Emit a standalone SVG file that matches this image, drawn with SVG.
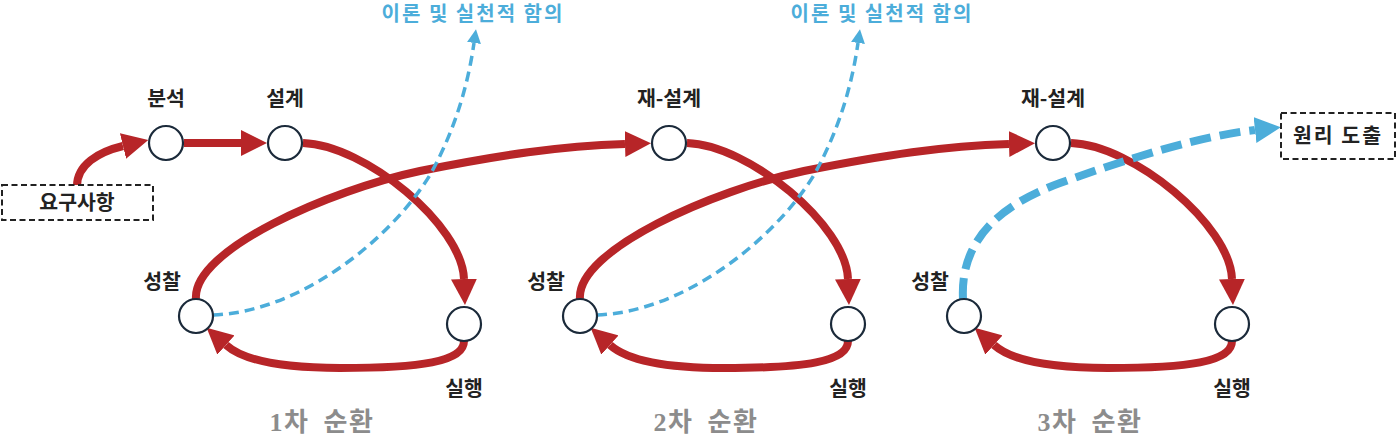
<svg xmlns="http://www.w3.org/2000/svg" width="1397" height="439" viewBox="0 0 1397 439">
<style>
.lbl{font-family:"Noto Sans CJK KR","Noto Sans",sans-serif;font-weight:700;font-size:20.5px;fill:#222;text-anchor:middle}
.blue-t{font-family:"Noto Sans CJK KR","Noto Sans",sans-serif;font-weight:700;font-size:20px;fill:#4cadda;text-anchor:middle;letter-spacing:2px}
.cyc{font-family:"Liberation Serif","Noto Sans CJK KR",serif;font-weight:700;font-size:26px;fill:#8c8c8c;text-anchor:middle;letter-spacing:1.5px;word-spacing:6px}
.red{fill:none;stroke:#b72528;stroke-width:8}
.bthin{fill:none;stroke:#4cadda;stroke-width:3.5;stroke-dasharray:10 6}
.bthick{fill:none;stroke:#4cadda;stroke-width:8;stroke-dasharray:21 9}
.node{fill:#fff;stroke:#1b2a3a;stroke-width:2.2}
.box{fill:#fff;stroke:#222;stroke-width:2;stroke-dasharray:6 3.5}
</style>
<defs>
<marker id="ar" viewBox="0 0 26 26" markerWidth="26" markerHeight="26" refX="0" refY="13" orient="auto" markerUnits="userSpaceOnUse"><path d="M0,0 L26,13 L0,26 z" fill="#b72528"/></marker>
<marker id="ab" viewBox="0 0 14 14" markerWidth="14" markerHeight="14" refX="0" refY="7" orient="auto" markerUnits="userSpaceOnUse"><path d="M0,0 L14,7 L0,14 z" fill="#4cadda"/></marker>
<marker id="abk" viewBox="0 0 26 26" markerWidth="26" markerHeight="26" refX="0" refY="13" orient="auto" markerUnits="userSpaceOnUse"><path d="M0,0 L26,13 L0,26 z" fill="#4cadda"/></marker>
</defs>

<g id="connectors">
  <!-- cycle 1 -->
  <path class="red" d="M77,186 C77,165 98,152 123,146" marker-end="url(#ar)"/>
  <path class="red" d="M184,143 L241,143" marker-end="url(#ar)"/>
  <path class="red" d="M303,143 C365,145 462,225 464,279" marker-end="url(#ar)"/>
  <path class="red" d="M464,341 C464,362 420,368 340,368 C290,368 245,362 226,345" marker-end="url(#ar)"/>
  <path class="red" d="M196,299 C192,250 330,190 420,171 C500,155 560,146 625,144" marker-end="url(#ar)"/>
  <!-- cycle 2 -->
  <path class="red" d="M687,143 C749,145 846,225 848,279" marker-end="url(#ar)"/>
  <path class="red" d="M848,341 C848,362 804,368 724,368 C674,368 629,362 610,345" marker-end="url(#ar)"/>
  <path class="red" d="M580,299 C576,250 714,190 804,171 C884,155 944,146 1009,144" marker-end="url(#ar)"/>
  <!-- cycle 3 -->
  <path class="red" d="M1071,143 C1133,145 1230,225 1232,279" marker-end="url(#ar)"/>
  <path class="red" d="M1232,341 C1232,362 1188,368 1108,368 C1058,368 1013,362 994,345" marker-end="url(#ar)"/>
  <!-- blue -->
  <path class="bthin" d="M213,315 C300,312 390,240 430,175 C455,130 468,85 474,43" marker-end="url(#ab)"/>
  <path class="bthin" d="M597,315 C684,312 774,240 814,175 C839,130 852,85 858,43" marker-end="url(#ab)"/>
  <path class="bthick" d="M963,299 C960,240 1000,205 1060,183 C1130,158 1200,136 1255,130" marker-end="url(#abk)"/>
</g>

<g id="n-req"><rect class="box" x="2" y="185" width="151" height="35"/><text class="lbl" x="77" y="210">요구사항</text></g>
<g id="n-out"><rect class="box" x="1281" y="113" width="114" height="46"/><text class="lbl" x="1338" y="143" style="letter-spacing:2px">원리 도출</text></g>

<g id="n-analysis"><circle class="node" cx="166" cy="143" r="17"/><text class="lbl" x="166" y="106">분석</text></g>
<g id="n-design1"><circle class="node" cx="285" cy="143" r="17"/><text class="lbl" x="285" y="106">설계</text></g>
<g id="n-act1"><circle class="node" cx="464" cy="324" r="17"/><text class="lbl" x="464" y="396">실행</text></g>
<g id="n-refl1"><circle class="node" cx="196" cy="316" r="17"/><text class="lbl" x="162" y="289">성찰</text></g>

<g id="n-design2"><circle class="node" cx="669" cy="143" r="17"/><text class="lbl" x="669" y="106">재-설계</text></g>
<g id="n-act2"><circle class="node" cx="848" cy="324" r="17"/><text class="lbl" x="848" y="396">실행</text></g>
<g id="n-refl2"><circle class="node" cx="580" cy="316" r="17"/><text class="lbl" x="546" y="289">성찰</text></g>

<g id="n-design3"><circle class="node" cx="1053" cy="143" r="17"/><text class="lbl" x="1053" y="106">재-설계</text></g>
<g id="n-act3"><circle class="node" cx="1232" cy="324" r="17"/><text class="lbl" x="1232" y="396">실행</text></g>
<g id="n-refl3"><circle class="node" cx="964" cy="316" r="17"/><text class="lbl" x="930" y="289">성찰</text></g>

<g id="n-theory1"><text class="blue-t" x="473" y="21">이론 및 실천적 함의</text></g>
<g id="n-theory2"><text class="blue-t" x="882" y="21">이론 및 실천적 함의</text></g>

<g id="cycle-labels">
  <text class="cyc" x="322" y="431">1차 순환</text>
  <text class="cyc" x="706" y="431">2차 순환</text>
  <text class="cyc" x="1090" y="431">3차 순환</text>
</g>
</svg>
